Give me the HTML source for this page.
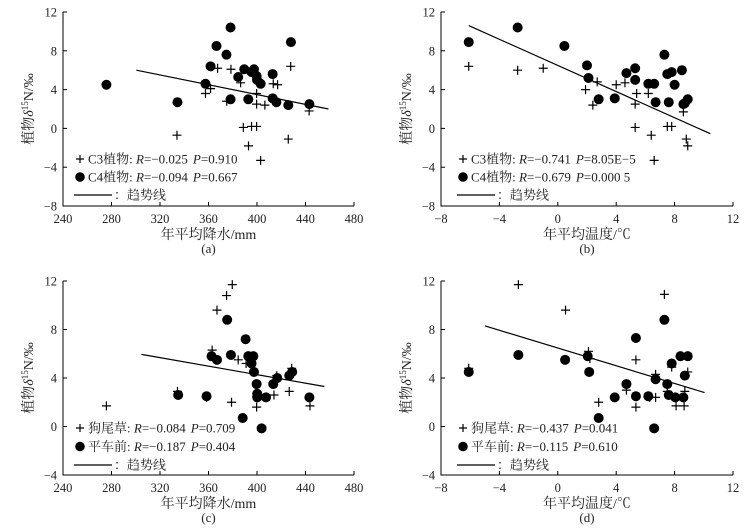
<!DOCTYPE html>
<html><head><meta charset="utf-8">
<style>
html,body{margin:0;padding:0;background:#fff;}
svg{display:block;font-family:"Liberation Serif","Noto Serif CJK SC","Noto Sans CJK SC",serif;}
</style></head>
<body>
<svg id="fig" width="750" height="530" viewBox="0 0 750 530" xmlns="http://www.w3.org/2000/svg"></svg>
<script>
// ---- data ----
const aC3x=[334,357.5,361.7,367.5,375,378.5,386.5,388.7,393,395.5,399.7,399.7,399.7,406.5,403,413.4,417,425.8,427.8,443];
const aC3y=[-0.7,3.6,4.1,6.2,2.8,6.1,4.7,0.1,-1.8,0.2,0.2,3.6,2.5,2.4,-3.3,4.6,4.5,-1.1,6.4,1.8];
const aC4x=[275.8,334.4,357.5,361.7,366.6,374.8,378.2,378.2,384.5,389.5,392.8,395.5,397.5,399.7,400,403,412.9,412.9,416,425.8,428,443.2];
const aC4y=[4.5,2.7,4.6,6.4,8.5,7.6,10.4,3.0,5.3,6.1,3.0,5.8,6.1,5.4,5.0,4.6,5.6,3.1,2.7,2.4,8.9,2.5];
const aTrend=[[300.5,6.0],[458.9,2.0]];
const bC3x=[-6.1,-2.75,-1.0,1.9,2.7,2.4,4.0,4.6,5.4,5.3,5.3,6.2,6.4,6.6,7.5,7.8,8.6,8.7,8.8,8.9];
const bC3y=[6.4,6.0,6.2,4.0,4.8,2.4,4.5,4.7,3.6,2.5,0.1,3.6,-0.7,-3.3,0.2,0.2,1.7,2.8,-1.1,-1.8];
const bC4x=[-6.1,-2.75,0.45,2.0,2.1,2.8,3.9,4.7,5.3,5.3,6.2,6.6,6.7,7.3,7.5,7.6,7.8,8.0,8.5,8.6,8.7,8.9];
const bC4y=[8.9,10.4,8.5,6.5,5.2,3.0,3.1,5.7,6.2,5.0,4.6,4.6,2.7,7.6,5.6,2.7,5.8,4.5,6.0,2.5,2.6,3.0];
const bTrend=[[-6.1,10.6],[10.45,-0.55]];
const cSx=[275.8,334.4,358.4,363,367,374.9,379.6,379,384.5,391,399.7,399.7,414,416.3,426.6,428.6,443.7];
const cSy=[1.7,2.9,2.4,6.3,9.6,10.8,11.7,2.0,5.5,5.2,1.6,2.5,2.6,4.2,2.9,4.8,1.7];
const cPx=[335,358.4,362.5,367,375.4,378.5,390.6,388.2,392.8,397,395.5,397.5,399.7,400.2,400.2,407.4,403.8,413.4,416.7,426.6,429,443.2];
const cPy=[2.6,2.5,5.8,5.5,8.8,5.9,7.2,0.7,5.8,5.8,5.2,4.5,3.5,2.7,2.4,2.4,-0.15,3.5,4.0,4.2,4.5,2.4];
const cTrend=[[304.7,5.95],[455.6,3.3]];
const dSx=[-6.1,-2.7,0.53,2.1,2.2,2.8,4.7,5.35,5.35,6.3,6.7,6.7,7.3,7.5,7.8,8.1,8.65,8.7,8.9];
const dSy=[4.8,11.7,9.6,6.2,5.6,2.0,3.0,5.5,1.6,2.4,2.4,4.3,10.9,2.9,4.9,1.7,1.7,2.9,4.5];
const dPx=[-6.1,-2.7,0.5,2.05,2.15,3.9,4.7,5.35,5.35,6.2,6.6,6.7,7.3,7.5,7.6,7.8,8.05,8.4,8.6,8.7,8.9,2.8];
const dPy=[4.5,5.9,5.5,5.8,4.5,2.4,3.5,7.3,2.5,2.5,-0.15,3.9,8.8,3.5,2.6,5.2,2.4,5.8,2.4,4.2,5.8,0.7];
const dTrend=[[-5.0,8.3],[10.05,2.8]];
const precipTicks=["240","280","320","360","400","440","480"];
const tempTicks=["−8","−4","0","4","8","12"];
const yTicksTop=["−8","−4","0","4","8","12"];
const yTicksBot=["−4","0","4","8","12"];

const NS="http://www.w3.org/2000/svg";
const svg=document.getElementById('fig');
function mk(tag,attrs,parent){const e=document.createElementNS(NS,tag);for(const k in attrs)e.setAttribute(k,attrs[k]);(parent||svg).appendChild(e);return e;}

function panel(o){
  const g=mk('g',{});
  
  
  const sx=v=>o.x0+(v-o.xmin)/(o.xmax-o.xmin)*(o.x1-o.x0);
  const sy=v=>o.y1+(v-o.ymin)/(o.ymax-o.ymin)*(o.y0-o.y1);
  const ax=mk('path',{d:`M${o.x0},${o.y0} L${o.x0},${o.y1} L${o.x1},${o.y1}`,stroke:'#000','stroke-width':1,fill:'none'},g);
  
  
  o.xt.forEach((t,i)=>{
    const v=o.xmin+i*(o.xmax-o.xmin)/(o.xt.length-1);const x=sx(v);
    mk('line',{x1:x,y1:o.y1,x2:x,y2:o.y1-4,stroke:'#000'},g);
    const tx=mk('text',{x:x,y:o.y1+17,'text-anchor':'middle','font-size':12.5,fill:'#222'},g);
    tx.textContent=t;
    
    
  });
  o.yt.forEach((t,i)=>{
    const v=o.ymin+i*(o.ymax-o.ymin)/(o.yt.length-1);const y=sy(v);
    mk('line',{x1:o.x0,y1:y,x2:o.x0+4,y2:y,stroke:'#000'},g);
    const tx=mk('text',{x:o.x0-6,y:y+4.5,'text-anchor':'end','font-size':12.5,fill:'#222'},g);
    tx.textContent=t;
    
    
  });
  const xtitle=mk('text',{x:(o.x0+o.x1)/2,y:o.y1+33,'text-anchor':'middle','font-size':14,fill:'#222'},g);
  xtitle.textContent=o.xlabel;
  
  
  const cap=mk('text',{x:(o.x0+o.x1)/2,y:o.y1+47,'text-anchor':'middle','font-size':13,fill:'#222'},g);
  cap.textContent=o.cap;
  
  
  const ym=(o.y0+o.y1)/2;
  const yt=mk('text',{x:0,y:0,'text-anchor':'middle','font-size':14,fill:'#222',transform:`translate(${o.x0-30},${ym}) rotate(-90)`},g);
  yt.innerHTML='植物<tspan font-style="italic">δ</tspan><tspan font-size="9" dy="-5">15</tspan><tspan dy="5">N/‰</tspan>';
  
  
  const tl=mk('line',{x1:sx(o.trend[0][0]),y1:sy(o.trend[0][1]),x2:sx(o.trend[1][0]),y2:sy(o.trend[1][1]),stroke:'#000','stroke-width':1.2},g);
  
  
  o.cx.forEach((v,i)=>{
    const x=sx(v),y=sy(o.cy[i]);
    const p=mk('path',{d:`M${x-4.5},${y} H${x+4.5} M${x},${y-4.5} V${y+4.5}`,stroke:'#000','stroke-width':1.2},g);
    
    
  });
  o.dx.forEach((v,i)=>{
    const c=mk('circle',{cx:sx(v),cy:sy(o.dy[i]),r:5,fill:'#000'},g);
    
    
  });
  const L=o.leg;
  const lg=mk('g',{},g);
  
  
  mk('path',{d:`M${L.x-4},${L.y0} H${L.x+4} M${L.x},${L.y0-4} V${L.y0+4}`,stroke:'#000','stroke-width':1.2},lg);
  mk('circle',{cx:L.x,cy:L.y0+L.dy,r:4.8,fill:'#000'},lg);
  mk('line',{x1:L.x-6,y1:L.y0+2*L.dy,x2:L.x+32,y2:L.y0+2*L.dy,stroke:'#000','stroke-width':1.2},lg);
  const t1=mk('text',{x:L.x+8,y:L.y0+4.5,'font-size':13,fill:'#222'},lg);
  t1.innerHTML=L.t1;
  
  
  const t2=mk('text',{x:L.x+8,y:L.y0+L.dy+4.5,'font-size':13,fill:'#222'},lg);
  t2.innerHTML=L.t2;
  
  
  const t3=mk('text',{x:L.x+34,y:L.y0+2*L.dy+4.5,'font-size':13,fill:'#222'},lg);
  t3.textContent='：趋势线';
  
  
}
const R=s=>`<tspan font-style="italic">R</tspan>=${s}`;
const P=s=>`<tspan dx="5" font-style="italic">P</tspan>=${s}`;
panel({name:'panel-a',x0:63,x1:354,y0:12,y1:206,xmin:240,xmax:480,ymin:-8,ymax:12,xt:precipTicks,yt:yTicksTop,xlabel:'年平均降水/mm',cap:'(a)',trend:aTrend,cx:aC3x,cy:aC3y,dx:aC4x,dy:aC4y,
  leg:{x:80,y0:159,dy:18,t1:'C3植物: '+R('−0.025')+P('0.910'),t2:'C4植物: '+R('−0.094')+P('0.667')}});
panel({name:'panel-b',x0:441,x1:733,y0:12,y1:206,xmin:-8,xmax:12,ymin:-8,ymax:12,xt:tempTicks,yt:yTicksTop,xlabel:'年平均温度/℃',cap:'(b)',trend:bTrend,cx:bC3x,cy:bC3y,dx:bC4x,dy:bC4y,
  leg:{x:463,y0:159,dy:18,t1:'C3植物: '+R('−0.741')+P('8.05E−5'),t2:'C4植物: '+R('−0.679')+P('0.000 5')}});
panel({name:'panel-c',x0:63,x1:354,y0:281,y1:475,xmin:240,xmax:480,ymin:-4,ymax:12,xt:precipTicks,yt:yTicksBot,xlabel:'年平均降水/mm',cap:'(c)',trend:cTrend,cx:cSx,cy:cSy,dx:cPx,dy:cPy,
  leg:{x:80,y0:428,dy:18.5,t1:'狗尾草: '+R('−0.084')+P('0.709'),t2:'平车前: '+R('−0.187')+P('0.404')}});
panel({name:'panel-d',x0:441,x1:733,y0:281,y1:475,xmin:-8,xmax:12,ymin:-4,ymax:12,xt:tempTicks,yt:yTicksBot,xlabel:'年平均温度/℃',cap:'(d)',trend:dTrend,cx:dSx,cy:dSy,dx:dPx,dy:dPy,
  leg:{x:463,y0:428,dy:18.5,t1:'狗尾草: '+R('−0.437')+P('0.041'),t2:'平车前: '+R('−0.115')+P('0.610')}});
</script>
</body></html>
